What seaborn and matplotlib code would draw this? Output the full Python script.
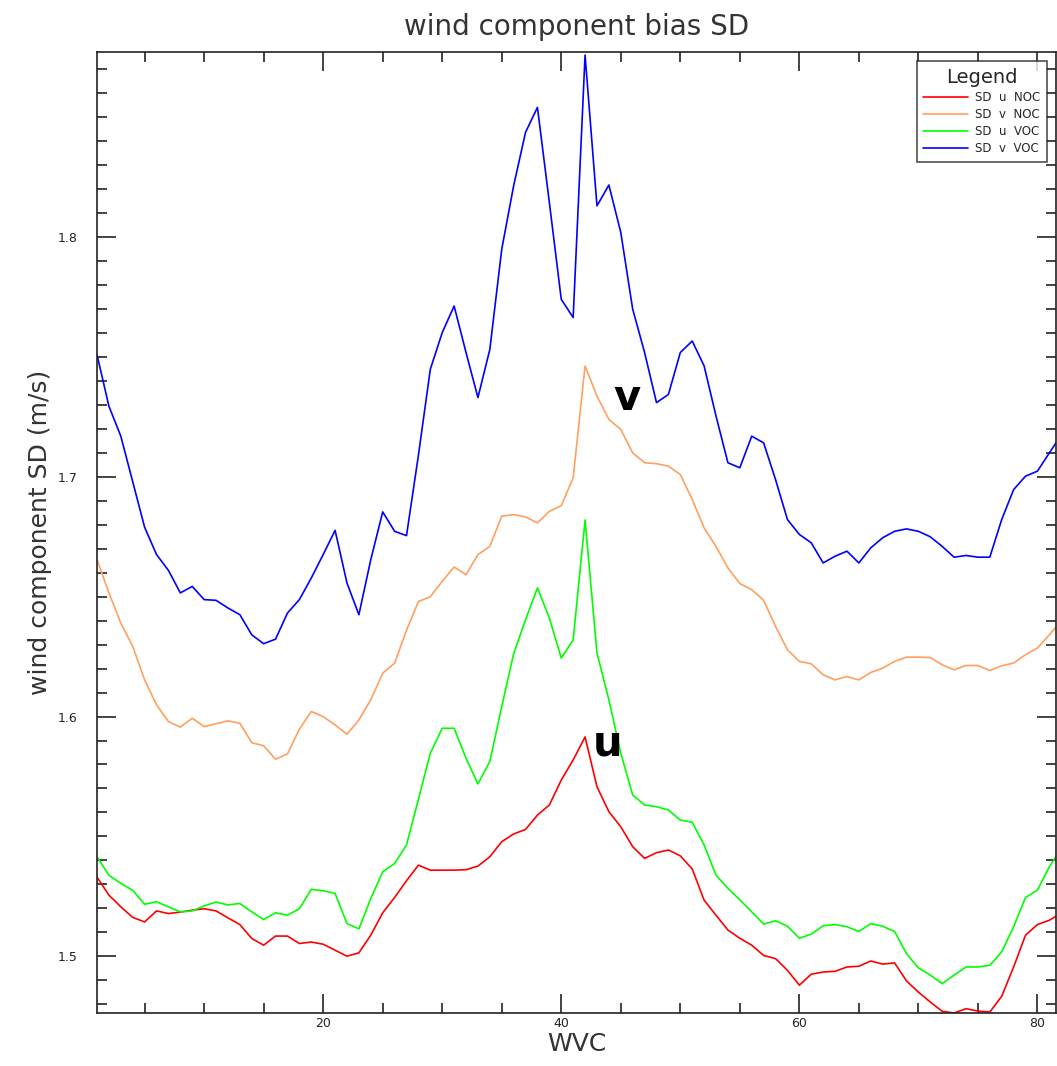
import numpy as np
import pandas as pd
import matplotlib
matplotlib.use("Agg")
import matplotlib.pyplot as plt
from matplotlib.ticker import MultipleLocator
import seaborn as sns

wvc = list(range(1, 83))

sd_u_noc = [1.533, 1.5255, 1.5206, 1.5162, 1.5143, 1.5189, 1.5178, 1.5184, 1.5192, 1.5198,
            1.5189, 1.516, 1.5132, 1.5074, 1.5046, 1.5084, 1.5084, 1.5053, 1.5059, 1.505,
            1.5025, 1.500, 1.5014, 1.5088, 1.5181, 1.5245, 1.5315, 1.538, 1.5359, 1.5359,
            1.5359, 1.5361, 1.5376, 1.5415, 1.5478, 1.551, 1.5529, 1.5589, 1.5631, 1.5735,
            1.5819, 1.5915, 1.5707, 1.5603, 1.554, 1.5457, 1.5408, 1.5432, 1.5443, 1.5419,
            1.5364, 1.5234, 1.5171, 1.5109, 1.5075, 1.5046, 1.5003, 1.499, 1.4941, 1.4879,
            1.4925, 1.4934, 1.4937, 1.4955, 1.4958, 1.498, 1.4967, 1.4972, 1.4897, 1.485,
            1.4809, 1.477, 1.4763, 1.4781, 1.4771, 1.4767, 1.4833, 1.4955, 1.5088, 1.5132,
            1.515, 1.518]

sd_v_noc = [1.6655, 1.6516, 1.639, 1.6293, 1.6153, 1.6049, 1.5979, 1.5956, 1.5993, 1.5958,
            1.597, 1.5982, 1.5972, 1.5891, 1.5878, 1.5822, 1.5844, 1.5947, 1.6021, 1.600,
            1.5965, 1.5926, 1.5986, 1.607, 1.6181, 1.6223, 1.636, 1.648, 1.650, 1.6564,
            1.6624, 1.6592, 1.6676, 1.671, 1.6836, 1.6843, 1.6833, 1.6808, 1.6856, 1.688,
            1.6996, 1.7463, 1.7337, 1.724, 1.7198, 1.710, 1.7059, 1.7055, 1.7045, 1.701,
            1.6906, 1.6787, 1.671, 1.662, 1.6555, 1.6529, 1.6485, 1.6376, 1.6279, 1.623,
            1.622, 1.6174, 1.6153, 1.6167, 1.6153, 1.6184, 1.6202, 1.623, 1.6248, 1.6248,
            1.6246, 1.6216, 1.6195, 1.6213, 1.6213, 1.6192, 1.6212, 1.6223, 1.6258, 1.6286,
            1.6341, 1.640]

sd_u_voc = [1.5415, 1.5338, 1.5304, 1.5275, 1.5217, 1.5227, 1.5206, 1.5185, 1.5189, 1.521,
            1.5226, 1.5214, 1.522, 1.5185, 1.5153, 1.5181, 1.5171, 1.5198, 1.5279, 1.5273,
            1.5262, 1.5136, 1.5114, 1.5241, 1.5352, 1.5387, 1.5464, 1.5655, 1.5847, 1.5951,
            1.5951, 1.5826, 1.5719, 1.5812, 1.6042, 1.6262, 1.6404, 1.6537, 1.6411, 1.6244,
            1.632, 1.682, 1.6265, 1.607, 1.5847, 1.5673, 1.5631, 1.5624, 1.561, 1.5568,
            1.5559, 1.5464, 1.5338, 1.5283, 1.5235, 1.5185, 1.5134, 1.5148, 1.5125, 1.5075,
            1.5092, 1.5127, 1.5132, 1.5123, 1.5103, 1.5136, 1.5125, 1.5103, 1.5011, 1.4951,
            1.4921, 1.4886, 1.4921, 1.4955, 1.4955, 1.4962, 1.5018, 1.5123, 1.5245, 1.5276,
            1.5373, 1.545]

sd_v_voc = [1.751, 1.7295, 1.717, 1.698, 1.679, 1.6676, 1.661, 1.6516, 1.6543, 1.6488,
            1.6485, 1.6453, 1.6425, 1.6341, 1.6304, 1.6323, 1.6432, 1.6488, 1.6578, 1.6676,
            1.6777, 1.6557, 1.6425, 1.6655, 1.6854, 1.6773, 1.6755, 1.709, 1.7449, 1.7602,
            1.7713, 1.7519, 1.7331, 1.7532, 1.795, 1.8215, 1.8438, 1.8542, 1.8145, 1.7741,
            1.7665, 1.876, 1.8131, 1.8218, 1.802, 1.770, 1.7519, 1.731, 1.7344, 1.7519,
            1.7567, 1.7463, 1.7254, 1.7059, 1.7038, 1.717, 1.7142, 1.6989, 1.6822, 1.676,
            1.6725, 1.6641, 1.6669, 1.669, 1.6641, 1.6704, 1.6746, 1.6773, 1.6783, 1.6773,
            1.675, 1.671, 1.6665, 1.6672, 1.6665, 1.6665, 1.6822, 1.6947, 1.7003, 1.7024,
            1.710, 1.7175]

series_names = ["SD  u  NOC", "SD  v  NOC", "SD  u  VOC", "SD  v  VOC"]
series_colors = ["#ff0000", "#ffa060", "#00ff00", "#0000ff"]

frames = []
for name, vals in zip(series_names, [sd_u_noc, sd_v_noc, sd_u_voc, sd_v_voc]):
    frames.append(pd.DataFrame({"WVC": wvc, "SD": vals, "series": name}))
df = pd.concat(frames, ignore_index=True)

sns.set_style("white")
plt.rcParams["font.family"] = ["DejaVu Sans"]

W, H = 1057, 1066
fig = plt.figure(figsize=(W / 100, H / 100), dpi=100)
ax = fig.add_axes([97 / W, (H - 1013) / H, (1057 - 97) / W - 0.0005, (1013 - 52) / H])

sns.lineplot(data=df, x="WVC", y="SD", hue="series", hue_order=series_names,
             palette=dict(zip(series_names, series_colors)), linewidth=1.2,
             ax=ax, legend=True, estimator=None, sort=False)

ax.set_xlim(1, 81.6)
ax.set_ylim(1.4763, 1.8773)

ax.xaxis.set_major_locator(MultipleLocator(20))
ax.xaxis.set_minor_locator(MultipleLocator(5))
ax.yaxis.set_major_locator(MultipleLocator(0.1))
ax.yaxis.set_minor_locator(MultipleLocator(0.01))
ax.yaxis.set_major_formatter(matplotlib.ticker.FormatStrFormatter("%.1f"))

ax.tick_params(which="both", direction="in", top=True, right=True, bottom=True, left=True,
               color="#222222", width=1.2, labelsize=9, labelcolor="#222222")
ax.tick_params(which="major", length=14)
ax.tick_params(which="minor", length=7.5)
ax.tick_params(axis="y", which="major", pad=14)
ax.tick_params(axis="x", which="major", pad=3)

for s in ax.spines.values():
    s.set_visible(True)
    s.set_color("#222222")
    s.set_linewidth(1.2)

ax.set_title("wind component bias SD", fontsize=20, color="#333333", pad=12)
ax.set_xlabel("WVC", fontsize=18, color="#333333", labelpad=1)
ax.set_ylabel("wind component SD (m/s)", fontsize=18, color="#333333", labelpad=4)

ax.text(45.5, 1.724, "v", fontsize=30, fontweight="bold", color="black", ha="center", va="bottom")
ax.text(43.9, 1.580, "u", fontsize=30, fontweight="bold", color="black", ha="center", va="bottom")

leg = ax.legend(title="Legend", loc="upper right", frameon=True, fancybox=False,
                fontsize=8.5, title_fontsize=14, handlelength=3.8, handletextpad=0.6,
                labelspacing=0.35, borderpad=0.55, borderaxespad=0.8)
leg.get_frame().set_edgecolor("#222222")
leg.get_frame().set_linewidth(1.2)
for line in leg.get_lines():
    line.set_linewidth(1.2)

fig.savefig("out.png", dpi=100)
